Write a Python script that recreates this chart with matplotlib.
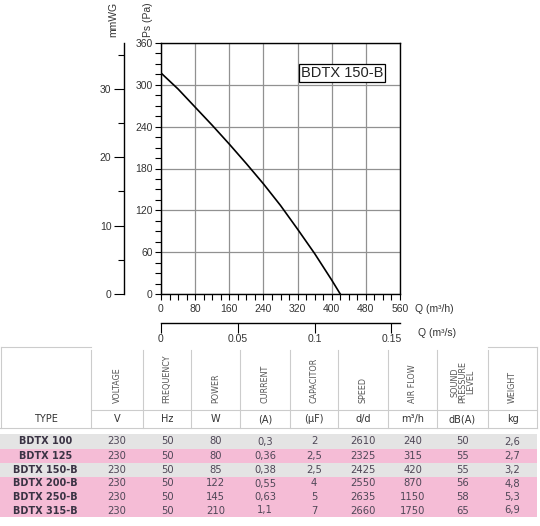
import matplotlib
matplotlib.use("Agg")
import matplotlib.pyplot as plt
from matplotlib.ticker import MultipleLocator, FixedLocator
from matplotlib.patches import Rectangle

plt.rcParams["font.family"] = ["Liberation Sans", "DejaVu Sans"]

# ---------------- data ----------------
flow_m3h = [0, 40, 80, 120, 160, 200, 240, 280, 320, 360, 400, 420]
pressure_pa = [317, 294, 268, 242, 215, 187, 158, 127, 93, 58, 20, 0]

q_ticks = [0, 80, 160, 240, 320, 400, 480, 560]
pa_ticks = [0, 60, 120, 180, 240, 300, 360]
mmwg_ticks = [0, 10, 20, 30]
qs_ticks = [0, 0.05, 0.1, 0.15]
qs_labels = ["0", "0.05", "0.1", "0.15"]
model_label = "BDTX 150-B"

header_names = ["VOLTAGE", "FREQUENCY", "POWER", "CURRENT", "CAPACITOR",
                "SPEED", "AIR FLOW", "SOUND\nPRESSURE\nLEVEL", "WEIGHT"]
header_units = ["V", "Hz", "W", "(A)", "(µF)", "d/d", "m³/h", "dB(A)", "kg"]
types = ["BDTX 100", "BDTX 125", "BDTX 150-B", "BDTX 200-B", "BDTX 250-B", "BDTX 315-B"]
voltage = ["230", "230", "230", "230", "230", "230"]
frequency = ["50", "50", "50", "50", "50", "50"]
power = ["80", "80", "85", "122", "145", "210"]
current = ["0,3", "0,36", "0,38", "0,55", "0,63", "1,1"]
capacitor = ["2", "2,5", "2,5", "4", "5", "7"]
speed = ["2610", "2325", "2425", "2550", "2635", "2660"]
airflow = ["240", "315", "420", "870", "1150", "1750"]
sound = ["50", "55", "55", "56", "58", "65"]
weight = ["2,6", "2,7", "3,2", "4,8", "5,3", "6,9"]

# ---------------- figure ----------------
W, H = 540, 526
fig = plt.figure(figsize=(W / 100, H / 100), dpi=100)
fig.patch.set_facecolor("white")

def rect(x0, y0, x1, y1):
    return [x0 / W, 1 - y1 / H, (x1 - x0) / W, (y1 - y0) / H]

tick_col = "#333333"
lab_fs = 7.5

# main chart
ax = fig.add_axes(rect(161, 43, 400, 294))
ax.plot(flow_m3h, pressure_pa, color="black", lw=1.2, zorder=3)
ax.set_xlim(0, 560)
ax.set_ylim(0, 360)
ax.set_xticks(q_ticks)
ax.set_yticks(pa_ticks)
ax.xaxis.set_minor_locator(MultipleLocator(20))
ax.yaxis.set_minor_locator(MultipleLocator(15))
ax.grid(True, which="major", color="#919191", lw=0.9)
ax.tick_params(axis="both", which="both", direction="out", length=4, width=0.8,
               colors="black", labelcolor=tick_col, labelsize=lab_fs)
ax.tick_params(axis="x", pad=3)
ax.tick_params(axis="y", pad=2)
for s in ax.spines.values():
    s.set_color("black")
    s.set_linewidth(1.0)

# mmWG axis
ax2 = fig.add_axes(rect(124, 43, 125, 294))
ax2.set_ylim(0, 360 / 9.81)
ax2.set_xlim(0, 1)
ax2.set_xticks([])
ax2.yaxis.set_major_locator(FixedLocator(mmwg_ticks))
ax2.yaxis.set_minor_locator(FixedLocator([5, 15, 25, 35]))
for k in ["top", "right", "bottom"]:
    ax2.spines[k].set_visible(False)
ax2.spines["left"].set_linewidth(1.0)
ax2.patch.set_alpha(0)
ax2.tick_params(axis="y", which="major", length=7, width=0.8, labelsize=lab_fs,
                labelcolor=tick_col, pad=2)
ax2.tick_params(axis="y", which="minor", length=4, width=0.8)

# m3/s axis
ax3 = fig.add_axes(rect(161, 322, 400, 323))
ax3.set_xlim(0, 560 / 3600)
ax3.set_ylim(0, 1)
ax3.set_yticks([])
ax3.set_xticks(qs_ticks)
ax3.set_xticklabels(qs_labels)
for k in ["top", "right", "left"]:
    ax3.spines[k].set_visible(False)
ax3.spines["bottom"].set_linewidth(1.0)
ax3.patch.set_alpha(0)
ax3.tick_params(axis="x", length=7, width=0.8, labelsize=lab_fs, labelcolor=tick_col, pad=1)

# overlay for texts and table (pixel coordinates)
ov = fig.add_axes([0, 0, 1, 1])
ov.set_xlim(0, W)
ov.set_ylim(H, 0)
ov.axis("off")
ov.patch.set_alpha(0)

ov.text(415, 309, "Q (m³/h)", fontsize=7.5, color=tick_col, va="center", ha="left")
ov.text(418, 333, "Q (m³/s)", fontsize=7.5, color=tick_col, va="center", ha="left")
ov.text(113, 19, "mmWG", fontsize=7.5, color=tick_col, rotation=90, va="center", ha="center")
ov.text(148, 20, "Ps (Pa)", fontsize=7.5, color=tick_col, rotation=90, va="center", ha="center")
ov.text(342, 73, model_label, fontsize=10.5, color="#222222", va="center", ha="center",
        bbox=dict(boxstyle="square,pad=0.12", fc="white", ec="black", lw=0.9), zorder=5)

# ---------------- table ----------------
col_edges = [0, 91, 143, 191, 240, 290, 338, 388, 437, 488, 537]
centers = [(col_edges[i] + col_edges[i + 1]) / 2 for i in range(len(col_edges) - 1)]
line_col = "#cccccc"
txt_col = "#4f4757"
tfam = ["DejaVu Sans"]

for xe in col_edges[1:-1]:
    ov.plot([xe, xe], [350, 428], color=line_col, lw=0.8)
ov.plot([537, 537], [347, 428], color=line_col, lw=0.8)
ov.plot([1, 1], [347, 428], color=line_col, lw=0.8)
ov.plot([1, 91], [347, 347], color=line_col, lw=0.8)
ov.plot([488, 537], [347, 347], color=line_col, lw=0.8)
ov.plot([91, 537], [410, 410], color=line_col, lw=0.8)
ov.plot([0, 537], [428, 428], color=line_col, lw=0.8)

for c, name in zip(centers[1:], header_names):
    ov.text(c, 403, name, fontsize=5.8, color="#555555", rotation=90, family=tfam,
            ha="center", va="bottom", linespacing=0.85)
for c, unit in zip(centers[1:], header_units):
    ov.text(c, 419, unit, fontsize=7, color="#333333", ha="center", va="center", family=tfam)
ov.text(centers[0], 419, "TYPE", fontsize=7, color="#333333", ha="center", va="center",
        family=tfam)

row_tops = [434, 449, 463, 477, 490, 504]
row_bottom = 517
row_colors = ["#e4e4e4", "#f5bcd6", "#e4e4e4", "#f5bcd6", "#f5bcd6", "#f5bcd6"]
columns = [voltage, frequency, power, current, capacitor, speed, airflow, sound, weight]
for i, t in enumerate(types):
    y0 = row_tops[i]
    y1 = row_tops[i + 1] if i + 1 < len(row_tops) else row_bottom
    ov.add_patch(Rectangle((0, y0), 537, y1 - y0, fc=row_colors[i], ec="none"))
    yc = (y0 + y1) / 2
    ov.text(centers[0], yc, t, fontsize=7, color="#3a3344", ha="center", va="center",
            fontweight="bold", family=tfam)
    for c, col in zip(centers[1:], columns):
        ov.text(c, yc, col[i], fontsize=7.2, color=txt_col, ha="center", va="center",
                family=tfam)

fig.savefig("out.png", dpi=100, facecolor="white")
